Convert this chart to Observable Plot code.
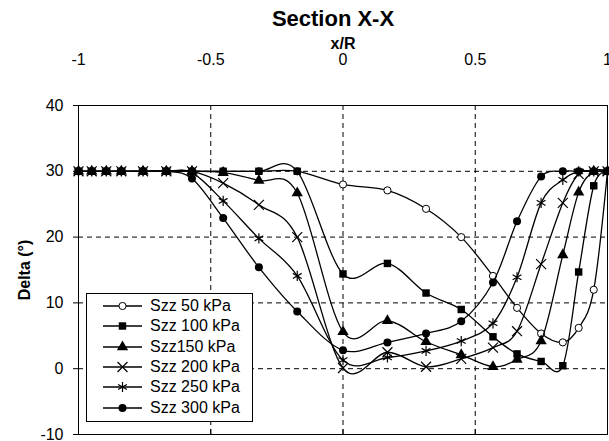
<!DOCTYPE html>
<html><head><meta charset="utf-8">
<script src="https://cdn.jsdelivr.net/npm/d3@7"></script>
<script src="https://cdn.jsdelivr.net/npm/@observablehq/plot@0.6"></script>
<style>
body{margin:0;background:#fff;font-family:"Liberation Sans",Arial,sans-serif;}
#wrap{position:relative;width:609px;height:441px;overflow:hidden;background:#fff}
#title{position:absolute;left:57px;top:0;width:552px;height:34px;line-height:38px;text-align:center;font-weight:bold;font-size:22px;color:#000;z-index:2}
#chart{position:absolute;left:0;top:0}
#legend{position:absolute;left:86px;top:293px;width:165px;height:127px;border:1px solid #000;background:#fff}
.row{position:absolute;left:0;height:20px;display:flex;align-items:center;font-size:16px;color:#000;white-space:pre}
.row svg{margin-left:16px;margin-right:7px}
g[aria-label="x-axis label"] text, g[aria-label="y-axis label"] text{font-weight:bold}
</style></head><body>
<div id="wrap"><div id="chart"></div><div id="title">Section X-X</div><div id="legend"></div></div>
<script>
const xR = [-1,-0.95,-0.895,-0.838,-0.756,-0.668,-0.571,-0.453,-0.318,-0.173,0,0.168,0.314,0.447,0.567,0.658,0.749,0.831,0.891,0.948,1];
const seriesNames = ["Szz 50 kPa","Szz 100 kPa","Szz150 kPa","Szz 200 kPa","Szz 250 kPa","Szz 300 kPa"];
const szz50  = [30,30,30,30,30,30,30,30,30,30,28.0,27.1,24.3,20.0,14.1,9.25,5.35,4.0,6.2,12.0,30];
const szz100 = [30,30,30,30,30,30,30,30,30,30,14.4,16.0,11.5,9.0,4.85,2.25,1.1,0.45,14.7,27.8,30];
const szz150 = [30,30,30,30,30,30,30,29.8,28.6,26.7,5.6,7.3,4.1,2.1,0.3,1.4,4.2,17.3,26.8,30,30];
const szz200 = [30,30,30,30,30,30,30,28.2,24.9,20.0,0.1,2.5,0.3,1.5,3.2,5.7,15.9,25.2,29.6,30,30];
const szz250 = [30,30,30,30,30,30,29.8,25.5,19.8,14.1,1.3,1.7,2.7,4.2,6.9,13.9,25.2,28.7,30,30,30];
const szz300 = [30,30,30,30,30,30,28.9,22.9,15.4,8.7,2.8,4.0,5.35,7.2,13.1,22.4,29.2,30,30,30,30];
const xTicks = [-1,-0.5,0,0.5,1];
const yTicks = [-10,0,10,20,30,40];
const gridX = [-0.5,0,0.5];
const gridY = [0,10,20,30];

const allSeries = [szz50,szz100,szz150,szz200,szz250,szz300];
const markerStyles = [
  {symbol:"circle", r:3.6, fill:"white", stroke:"black", strokeWidth:1},
  {symbol:"square", r:4.2, fill:"black", stroke:"none"},
  {symbol:"triangle", r:4.2, fill:"black", stroke:"none"},
  {symbol:"times", r:4.6, fill:"none", stroke:"black", strokeWidth:1.2},
  {symbol:"asterisk", r:4.8, fill:"none", stroke:"black", strokeWidth:1.2},
  {symbol:"circle", r:4, fill:"black", stroke:"none"}
];

const rows = [];
allSeries.forEach((vals, s) => vals.forEach((v, i) => rows.push({series: seriesNames[s], s, x: xR[i], y: v})));

const marks = [
  Plot.ruleY(gridY, {stroke:"black", strokeDasharray:"5,4", strokeWidth:1}),
  Plot.ruleX(gridX, {stroke:"black", strokeDasharray:"5,4", strokeWidth:1}),
  Plot.frame({stroke:"black", strokeWidth:1}),
  Plot.axisY({ticks: yTicks, tickSize: 5, tickPadding: 10, tickFormat: d => String(d), label: "Delta (°)", labelAnchor: "center", labelOffset: 60, labelArrow: "none"}),
  Plot.axisX({anchor: "top", ticks: xTicks, tickSize: 0, tickPadding: 41, tickFormat: d => String(d), label: null}),
  Plot.axisX({anchor: "top", ticks: [], tickSize: 0, label: "x/R", labelAnchor: "center", labelOffset: 68, labelArrow: "none"}),
  Plot.axisX({anchor: "bottom", ticks: xTicks, tickSize: -5, tickFormat: () => "", label: null})
];
allSeries.forEach((vals, s) => {
  const data = rows.filter(d => d.s === s);
  marks.push(Plot.line(data, {x: "x", y: "y", stroke: "black", strokeWidth: 1.3, curve: "cardinal"}));
  const m = markerStyles[s];
  marks.push(Plot.dot(data, {x: "x", y: "y", symbol: () => m.symbol, r: m.r, fill: m.fill, stroke: m.stroke, strokeWidth: m.strokeWidth || 1}));
});

const chart = Plot.plot({
  width: 609, height: 441,
  marginTop: 105, marginLeft: 78, marginRight: 2, marginBottom: 7,
  x: {domain: [-1, 1]},
  y: {domain: [-10, 40]},
  style: {fontFamily: '"Liberation Sans", Arial, sans-serif', fontSize: "16px", color: "black", background: "white", overflow: "visible"},
  marks
});
document.getElementById("chart").appendChild(chart);

// legend
const legend = document.getElementById("legend");
const symMap = {circle: d3.symbolCircle, square: d3.symbolSquare, triangle: d3.symbolTriangle, times: d3.symbolTimes, asterisk: d3.symbolAsterisk};
seriesNames.forEach((name, i) => {
  const m = markerStyles[i];
  const row = document.createElement("div");
  row.className = "row";
  row.style.top = (2 + i * 20.3) + "px";
  const path = d3.symbol(symMap[m.symbol], Math.PI * m.r * m.r)();
  row.innerHTML = `<svg width="40" height="20"><line x1="0" x2="39" y1="10" y2="10" stroke="black" stroke-width="1.3"/><path transform="translate(19.5,10)" d="${path}" fill="${m.fill}" stroke="${m.stroke}" stroke-width="${m.strokeWidth||1}"/></svg><span>${name}</span>`;
  legend.appendChild(row);
});
</script>
</body></html>
